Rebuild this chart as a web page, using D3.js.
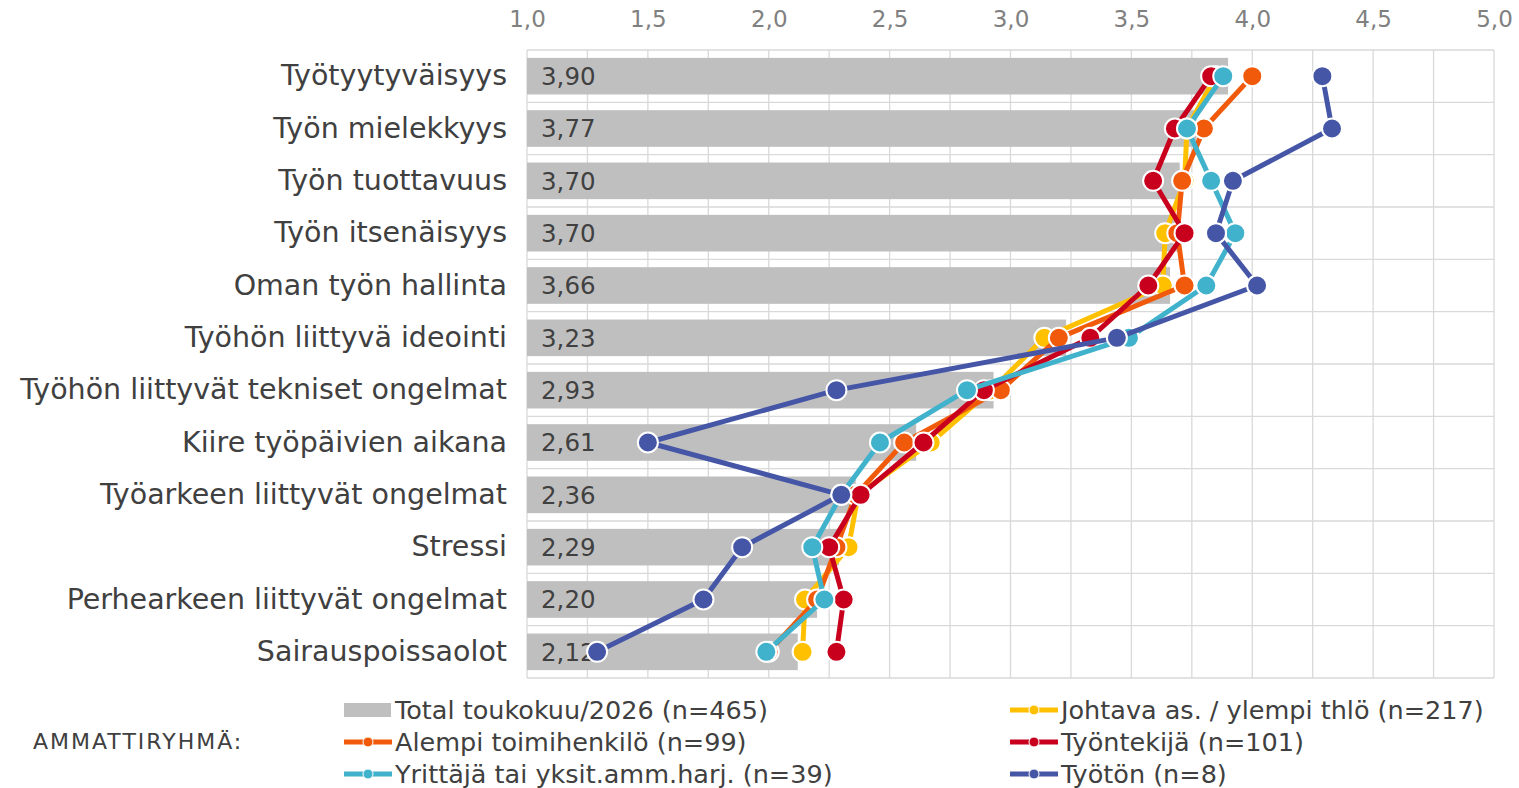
<!DOCTYPE html>
<html>
<head>
<meta charset="utf-8">
<script src="https://cdn.jsdelivr.net/npm/d3@7"></script>
<style>
  body { margin: 0; background: #fff; }
  text { font-family: "DejaVu Sans", Verdana, sans-serif; }
</style>
</head>
<body>
<div id="box"></div>
<script>
'use strict';

var categories = ["Työtyytyväisyys", "Työn mielekkyys", "Työn tuottavuus", "Työn itsenäisyys",
  "Oman työn hallinta", "Työhön liittyvä ideointi", "Työhön liittyvät tekniset ongelmat",
  "Kiire työpäivien aikana", "Työarkeen liittyvät ongelmat", "Stressi",
  "Perhearkeen liittyvät ongelmat", "Sairauspoissaolot"];

var total = [3.90, 3.77, 3.70, 3.70, 3.66, 3.23, 2.93, 2.61, 2.36, 2.29, 2.20, 2.12];
var johtava = [3.85, 3.73, 3.72, 3.64, 3.63, 3.14, 2.92, 2.67, 2.37, 2.33, 2.15, 2.14];
var alempi = [4.00, 3.80, 3.71, 3.69, 3.72, 3.20, 2.96, 2.56, 2.36, 2.28, 2.20, 2.00];
var tyontekija = [3.83, 3.68, 3.59, 3.72, 3.57, 3.33, 2.89, 2.64, 2.38, 2.25, 2.31, 2.28];
var yrittaja = [3.88, 3.73, 3.83, 3.93, 3.81, 3.49, 2.82, 2.46, 2.30, 2.18, 2.23, 1.99];
var tyoton = [4.29, 4.33, 3.92, 3.85, 4.02, 3.44, 2.28, 1.50, 2.30, 1.89, 1.73, 1.29];

var xTicks = [1.0, 1.5, 2.0, 2.5, 3.0, 3.5, 4.0, 4.5, 5.0];
var xGrid = d3.range(1, 5.001, 0.25);

var series = [
  { name: "Johtava as. / ylempi thlö (n=217)", color: "#ffc000", values: johtava },
  { name: "Alempi toimihenkilö (n=99)", color: "#f05a0a", values: alempi },
  { name: "Työntekijä (n=101)", color: "#c8001e", values: tyontekija },
  { name: "Yrittäjä tai yksit.amm.harj. (n=39)", color: "#40b2cc", values: yrittaja },
  { name: "Työtön (n=8)", color: "#4656a6", values: tyoton }
];

var width = 1519, height = 788;
var margin = { left: 527, right: 25, top: 50, bottom: 110 };

var svg = d3.select("#box")
  .append("svg")
    .attr("width", width)
    .attr("height", height);

var x = d3.scaleLinear()
  .domain([1, 5])
  .range([margin.left, width - margin.right]);

var y = d3.scaleBand()
  .domain(categories)
  .range([margin.top, height - margin.bottom])
  .paddingInner(0.3)
  .paddingOuter(0.15);

// gridlines
svg.append("g")
  .selectAll("line")
  .data(xGrid)
  .enter().append("line")
    .attr("x1", function(d) { return x(d); })
    .attr("x2", function(d) { return x(d); })
    .attr("y1", margin.top)
    .attr("y2", height - margin.bottom)
    .attr("stroke", "#d9d9d9")
    .attr("stroke-width", 1.3);

var rowH = (height - margin.bottom - margin.top) / categories.length;
svg.append("g")
  .selectAll("line")
  .data(d3.range(categories.length + 1))
  .enter().append("line")
    .attr("x1", margin.left)
    .attr("x2", width - margin.right)
    .attr("y1", function(i) { return margin.top + i * rowH; })
    .attr("y2", function(i) { return margin.top + i * rowH; })
    .attr("stroke", "#d9d9d9")
    .attr("stroke-width", 1.3);

// top axis
var xAxis = svg.append("g")
  .attr("transform", "translate(0," + 27 + ")")
  .call(d3.axisTop(x).tickValues(xTicks).tickSize(0).tickPadding(0)
    .tickFormat(function(d) { return d3.format(".1f")(d).replace(".", ","); }));
xAxis.select(".domain").remove();
xAxis.selectAll("text")
  .attr("fill", "#808080")
  .style("font-size", "23px")
  .style("font-family", "DejaVu Sans, Verdana, sans-serif");

// category labels
var yAxis = svg.append("g")
  .attr("transform", "translate(" + (margin.left - 20) + ",0)")
  .call(d3.axisLeft(y).tickSize(0).tickPadding(0));
yAxis.select(".domain").remove();
yAxis.selectAll("text")
  .attr("fill", "#404040")
  .style("font-size", "28.5px")
  .style("font-family", "DejaVu Sans, Verdana, sans-serif");

// bars
svg.append("g")
  .selectAll("rect")
  .data(total)
  .enter().append("rect")
    .attr("x", x(1))
    .attr("y", function(d, i) { return y(categories[i]); })
    .attr("width", function(d) { return x(d) - x(1); })
    .attr("height", y.bandwidth())
    .attr("fill", "#bfbfbf");

svg.append("g")
  .selectAll("text")
  .data(total)
  .enter().append("text")
    .attr("x", x(1) + 14)
    .attr("y", function(d, i) { return y(categories[i]) + y.bandwidth() / 2; })
    .attr("dy", "0.36em")
    .attr("fill", "#404040")
    .style("font-size", "24.5px")
    .text(function(d) { return d3.format(".2f")(d).replace(".", ","); });

// lines
var line = d3.line()
  .x(function(d) { return x(d); })
  .y(function(d, i) { return y(categories[i]) + y.bandwidth() / 2; });

series.forEach(function(s) {
  var g = svg.append("g");
  g.append("path")
    .datum(s.values)
    .attr("fill", "none")
    .attr("stroke", s.color)
    .attr("stroke-width", 5)
    .attr("stroke-linejoin", "round")
    .attr("d", line);
  g.selectAll("circle")
    .data(s.values)
    .enter().append("circle")
      .attr("cx", function(d) { return x(d); })
      .attr("cy", function(d, i) { return y(categories[i]) + y.bandwidth() / 2; })
      .attr("r", 10)
      .attr("fill", s.color)
      .attr("stroke", "#fff")
      .attr("stroke-width", 2);
});

// legend
svg.append("text")
  .attr("x", 33)
  .attr("y", 741)
  .attr("dy", "0.36em")
  .attr("fill", "#404040")
  .style("font-size", "22px")
  .style("letter-spacing", "2px")
  .text("AMMATTIRYHMÄ:");

var legendItems = [{ name: "Total toukokuu/2026 (n=465)", color: "#bfbfbf", bar: true }].concat(series);
var legend = svg.append("g")
  .selectAll("g")
  .data(legendItems)
  .enter().append("g")
    .attr("transform", function(d, i) {
      return "translate(" + (i % 2 === 0 ? 344 : 1010) + "," + (710 + Math.floor(i / 2) * 32) + ")";
    });

legend.each(function(d) {
  var g = d3.select(this);
  if (d.bar) {
    g.append("rect").attr("x", 0).attr("y", -7).attr("width", 47).attr("height", 14).attr("fill", d.color);
  } else {
    g.append("line").attr("x1", 0).attr("x2", 48).attr("y1", 0).attr("y2", 0)
      .attr("stroke", d.color).attr("stroke-width", 5);
    g.append("circle").attr("cx", 24).attr("cy", 0).attr("r", 5)
      .attr("fill", d.color).attr("stroke", "#fff").attr("stroke-width", 1);
  }
  g.append("text")
    .attr("x", 51)
    .attr("dy", "0.36em")
    .attr("fill", "#404040")
    .style("font-size", "25.5px")
    .text(d.name);
});
</script>
</body>
</html>
